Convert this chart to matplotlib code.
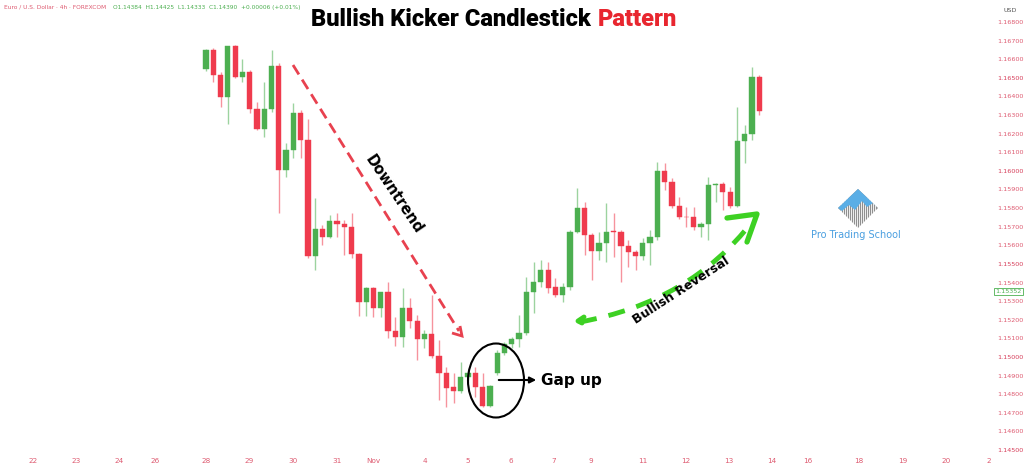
import matplotlib
matplotlib.use("Agg")
import matplotlib.pyplot as plt
from matplotlib.patches import Rectangle, Ellipse, FancyArrowPatch, Polygon
from matplotlib.lines import Line2D
from matplotlib.path import Path
from matplotlib.patches import PathPatch

# ---------------- data (EUR/USD 4h candles) ----------------
opens = [1.16546, 1.16649, 1.16515, 1.16395, 1.16671, 1.16503, 1.16533, 1.16331, 1.16223, 1.16331,
         1.16563, 1.16005, 1.16112, 1.16312, 1.16166, 1.15542, 1.15686, 1.15643, 1.15732, 1.15714,
         1.15700, 1.15553, 1.15297, 1.15369, 1.15265, 1.15347, 1.15141, 1.15106, 1.15265, 1.15195,
         1.15095, 1.15122, 1.15007, 1.14915, 1.14837, 1.14819, 1.14892, 1.14915, 1.14840, 1.14736,
         1.14912, 1.15021, 1.15070, 1.15095, 1.15130, 1.15351, 1.15404, 1.15467, 1.15374, 1.15333,
         1.15378, 1.15673, 1.15799, 1.15655, 1.15571, 1.15614, 1.15677, 1.15673, 1.15596, 1.15566,
         1.15542, 1.15614, 1.15643, 1.16001, 1.15942, 1.15813, 1.15754, 1.15754, 1.15697, 1.15714,
         1.15924, 1.15928, 1.15885, 1.15811, 1.16160, 1.16196, 1.16503]
highs = [1.16653, 1.16659, 1.16533, 1.16673, 1.16676, 1.16599, 1.16542, 1.16372, 1.16479, 1.16649,
         1.16578, 1.16148, 1.16366, 1.16327, 1.16277, 1.15853, 1.15709, 1.15763, 1.15772, 1.15736,
         1.15772, 1.15557, 1.15378, 1.15378, 1.15351, 1.15404, 1.15216, 1.15369, 1.15315, 1.15225,
         1.15145, 1.15333, 1.15091, 1.14948, 1.14912, 1.14974, 1.14930, 1.14948, 1.14914, 1.14848,
         1.15037, 1.15082, 1.15109, 1.15225, 1.15431, 1.15512, 1.15521, 1.15512, 1.15423, 1.15396,
         1.15682, 1.15906, 1.15834, 1.15664, 1.15673, 1.15826, 1.15772, 1.15682, 1.15628, 1.15575,
         1.15638, 1.15682, 1.16049, 1.16041, 1.15960, 1.15861, 1.15807, 1.15807, 1.15727, 1.15969,
         1.15933, 1.15942, 1.15915, 1.16345, 1.16246, 1.16556, 1.16515]
lows = [1.16538, 1.16479, 1.16345, 1.16252, 1.16497, 1.16479, 1.16309, 1.16220, 1.16184, 1.16318,
        1.15772, 1.15969, 1.16067, 1.16067, 1.15530, 1.15467, 1.15602, 1.15638, 1.15646, 1.15548,
        1.15530, 1.15220, 1.15220, 1.15216, 1.15216, 1.15100, 1.15059, 1.15055, 1.15154, 1.14984,
        1.15046, 1.14993, 1.14769, 1.14733, 1.14751, 1.14805, 1.14876, 1.14786, 1.14731, 1.14731,
        1.14903, 1.15010, 1.15046, 1.15055, 1.15118, 1.15235, 1.15378, 1.15342, 1.15324, 1.15297,
        1.15360, 1.15664, 1.15548, 1.15414, 1.15521, 1.15512, 1.15539, 1.15404, 1.15485, 1.15467,
        1.15521, 1.15494, 1.15628, 1.15897, 1.15799, 1.15740, 1.15700, 1.15682, 1.15646, 1.15628,
        1.15834, 1.15790, 1.15799, 1.15807, 1.16041, 1.16166, 1.16300]
closes = [1.16649, 1.16515, 1.16395, 1.16671, 1.16503, 1.16533, 1.16331, 1.16223, 1.16331, 1.16563,
          1.16005, 1.16112, 1.16312, 1.16166, 1.15542, 1.15686, 1.15643, 1.15732, 1.15714, 1.15700,
          1.15553, 1.15297, 1.15369, 1.15265, 1.15347, 1.15141, 1.15106, 1.15265, 1.15195, 1.15095,
          1.15122, 1.15007, 1.14915, 1.14832, 1.14819, 1.14891, 1.14914, 1.14840, 1.14736, 1.14846,
          1.15023, 1.15070, 1.15095, 1.15130, 1.15351, 1.15404, 1.15467, 1.15369, 1.15333, 1.15378,
          1.15673, 1.15799, 1.15655, 1.15571, 1.15614, 1.15673, 1.15673, 1.15596, 1.15566, 1.15542,
          1.15614, 1.15643, 1.16001, 1.15942, 1.15813, 1.15750, 1.15750, 1.15697, 1.15714, 1.15924,
          1.15929, 1.15885, 1.15811, 1.16160, 1.16196, 1.16503, 1.16323]

date_labels = ["22", "23", "24", "26", "28", "29", "30", "31", "Nov", "4", "5", "6", "7", "9",
               "11", "12", "13", "14", "16", "18", "19", "20", "2"]
date_pos = [-23.76, -17.86, -11.95, -7.01, 0.0, 5.91, 11.95, 17.99, 22.94, 30.08, 35.99, 41.90,
            47.80, 52.88, 60.03, 65.93, 71.84, 77.75, 82.69, 89.70, 95.74, 101.65, 107.55]
price_ticks = [1.145 + 0.001 * k for k in range(24)]
last_price_label = "1.15352"
last_price_value = 1.15352

# ---------------- style ----------------
GREEN = "#4caf50"
RED = "#ef3b4d"
AXIS_TXT = "#de5a70"
W, H = 1024, 467

fig = plt.figure(figsize=(10.24, 4.67), dpi=100)
fig.patch.set_facecolor("white")
ax = fig.add_axes([0, 1 - 452 / H, 992 / W, 452 / H])
ax.set_facecolor("white")


def F(x, y):
    return (x / W, 1 - y / H)


for i, (o, h, l, c) in enumerate(zip(opens, highs, lows, closes)):
    col = GREEN if c >= o else RED
    ax.vlines(i, l, h, color=col, lw=1.0, alpha=0.55, zorder=2)
    bot = min(o, c)
    hgt = max(abs(c - o), 0.00003)
    ax.add_patch(Rectangle((i - 0.36, bot), 0.72, hgt, facecolor=col, edgecolor=col,
                           lw=0.3, zorder=3))

ax.set_xlim(-28.30, 107.97)
ax.set_ylim(1.144893, 1.169182)
for s in ax.spines.values():
    s.set_visible(False)

ax.yaxis.tick_right()
ax.set_yticks(price_ticks)
ax.set_yticklabels([f"{p:.5f}" for p in price_ticks])
ax.tick_params(axis="y", length=0, pad=4, labelsize=4.6, labelcolor=AXIS_TXT)
for lab, p in zip(ax.get_yticklabels(), price_ticks):
    if round(p * 1000) % 5 == 0:
        lab.set_color("#d63c58")
ax.set_xticks(date_pos)
ax.set_xticklabels(date_labels)
ax.tick_params(axis="x", length=0, pad=4, labelsize=5.2, labelcolor=AXIS_TXT)

# last price box
ax.text(1.0 + 3 / 992, last_price_value, last_price_label, transform=ax.get_yaxis_transform(),
        ha="left", va="center", fontsize=4.6, color=GREEN,
        bbox=dict(boxstyle="square,pad=0.2", fc="white", ec=GREEN, lw=0.6),
        clip_on=False, zorder=5)
fig.text(1004 / W, 1 - 10 / H, "USD", fontsize=4.6, color="#555555", ha="left", va="center")

# header
fig.text(4 / W, 1 - 7 / H, "Euro / U.S. Dollar · 4h · FOREXCOM", fontsize=4.2,
         color="#de5a70", ha="left", va="center")
fig.text(113 / W, 1 - 7 / H, "O1.14384  H1.14425  L1.14333  C1.14390  +0.00006 (+0.01%)",
         fontsize=4.2, color="#4caf50", ha="left", va="center")

# title
tfam = ["Roboto", "DejaVu Sans"]
fig.text(591 / W, 1 - 20 / H, "Bullish Kicker Candlestick", fontsize=17, fontweight="black",
         family=tfam, color="black", ha="right", va="center")
fig.text(598 / W, 1 - 20 / H, "Pattern", fontsize=17, fontweight="black",
         family=tfam, color="#e8262f", ha="left", va="center")

# Downtrend arrow
fig.add_artist(Line2D([293 / W, 459 / W], [1 - 65 / H, 1 - 331 / H], transform=fig.transFigure,
                      color="#e8414f", lw=2.0, ls=(0, (4, 2.2))))
fig.add_artist(Line2D([452 / W, 462 / W, 460 / W], [1 - 333 / H, 1 - 336 / H, 1 - 326 / H],
                      transform=fig.transFigure, color="#e8414f", lw=2.0,
                      solid_capstyle="butt", solid_joinstyle="miter"))
fig.text(394 / W, 1 - 194 / H, "Downtrend", rotation=-56, fontsize=10.5, fontweight="bold",
         ha="center", va="center", rotation_mode="anchor")

# Gap up circle and arrow
fig.add_artist(Ellipse(F(496, 380.5), 56 / W, 74 / H, transform=fig.transFigure,
                       fill=False, ec="black", lw=1.5))
fig.add_artist(FancyArrowPatch(F(496, 380), F(539, 380), transform=fig.transFigure,
                               arrowstyle="-|>", mutation_scale=9, lw=1.5, color="black"))
fig.text(541 / W, 1 - 380 / H, "Gap up", fontsize=11, fontweight="bold", ha="left", va="center")

# Bullish reversal curved dashed arrow
verts = [F(580, 322), F(690, 302), F(752, 222)]
path = Path(verts, [Path.MOVETO, Path.CURVE3, Path.CURVE3])
fig.add_artist(PathPatch(path, transform=fig.transFigure, fill=False, ec="#3dd123", lw=3.5,
                         ls=(0, (3.5, 2.5))))
fig.add_artist(Line2D([584 / W, 578 / W, 582 / W], [1 - 317 / H, 1 - 321 / H, 1 - 323 / H],
                      transform=fig.transFigure, color="#3dd123", lw=3.5,
                      solid_capstyle="round", solid_joinstyle="round"))
fig.add_artist(Line2D([727 / W, 757 / W, 747 / W], [1 - 218 / H, 1 - 214 / H, 1 - 242 / H],
                      transform=fig.transFigure, color="#3dd123", lw=3.8,
                      solid_capstyle="round", solid_joinstyle="round"))
fig.text(681 / W, 1 - 290 / H, "Bullish Reversal", rotation=33, fontsize=9, fontweight="bold",
         ha="center", va="center", rotation_mode="anchor")

# logo
T, R, B, L = F(858, 189), F(878, 208), F(858, 228), F(838, 208)
fig.add_artist(Polygon([T, R, B, L], closed=True, transform=fig.transFigure,
                       fc="#8f8f8f", ec="none", zorder=1))
for xx in range(841, 877, 2):
    fig.add_artist(Line2D([xx / W, xx / W], [1 - 198 / H, 1 - 229 / H],
                          transform=fig.transFigure, color="white", lw=0.6, zorder=2))
fig.add_artist(Polygon([T, R, F(873, 203), F(867, 207), F(862, 201), F(855, 210), F(849, 205),
                        F(842, 211), L], closed=True, transform=fig.transFigure,
                       fc="#5aaee6", ec="none", zorder=3))
fig.text(856 / W, 1 - 235 / H, "Pro Trading School", fontsize=7, color="#4a9fe0",
         ha="center", va="center")

fig.savefig("out.png", dpi=100, facecolor="white")
